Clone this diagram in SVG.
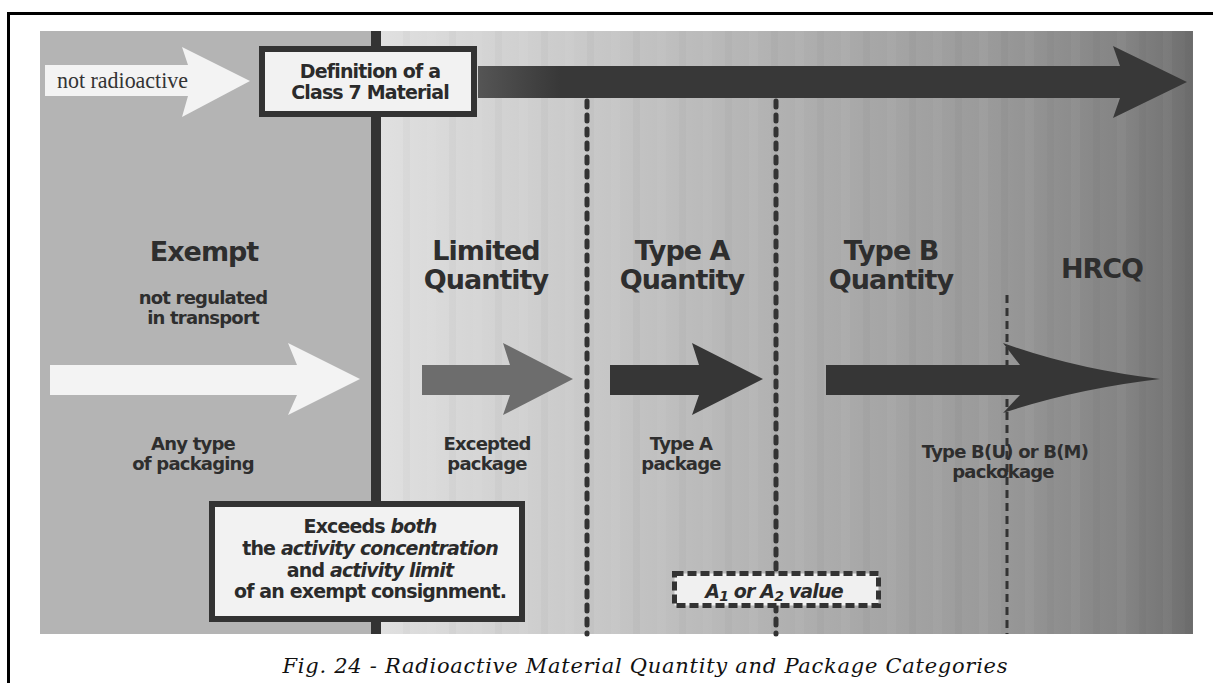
<svg xmlns="http://www.w3.org/2000/svg" width="1213" height="683" viewBox="0 0 1213 683">
  <defs>
    <linearGradient id="rampRight" x1="381" y1="0" x2="1193" y2="0" gradientUnits="userSpaceOnUse">
      <stop offset="0" stop-color="#e0e0e0"/>
      <stop offset="0.26" stop-color="#c8c8c8"/>
      <stop offset="0.49" stop-color="#b1b1b1"/>
      <stop offset="0.76" stop-color="#999999"/>
      <stop offset="0.92" stop-color="#838383"/>
      <stop offset="1" stop-color="#6e6e6e"/>
    </linearGradient>
    <linearGradient id="barFade" x1="478" y1="0" x2="560" y2="0" gradientUnits="userSpaceOnUse">
      <stop offset="0" stop-color="#555555"/>
      <stop offset="1" stop-color="#383838"/>
    </linearGradient>
    <pattern id="bands" x="381" y="0" width="46" height="10" patternUnits="userSpaceOnUse">
      <rect x="0" y="0" width="9" height="10" fill="#ffffff" opacity="0.035"/>
      <rect x="22" y="0" width="7" height="10" fill="#000000" opacity="0.025"/>
    </pattern>
  </defs>
  <style>
    .head { font-family: "DejaVu Sans", "Liberation Sans", sans-serif; font-weight: bold; font-size: 27px; letter-spacing: -1px; fill: #2e2e2e; text-anchor: middle; }
    .sub { font-family: "DejaVu Sans", "Liberation Sans", sans-serif; font-weight: bold; font-size: 18px; fill: #2e2e2e; text-anchor: middle; letter-spacing: -0.8px; }
    .boxtxt { font-family: "DejaVu Sans", "Liberation Sans", sans-serif; font-weight: bold; font-size: 19px; letter-spacing: -0.85px; fill: #2b2b2b; text-anchor: middle; }
    .it { font-style: italic; }
    .frame { fill: #f2f2f2; stroke: #333333; stroke-width: 6; }
    .div-thick { stroke: #333333; stroke-width: 5; stroke-dasharray: 6 8; stroke-linecap: round; fill: none; }
    .div-thin { stroke: #333333; stroke-width: 3; stroke-dasharray: 8 5; fill: none; }
    .dark { fill: #363636; }
    .pale { fill: #f3f3f3; }
    .caption { font-family: "DejaVu Serif", "Liberation Serif", serif; font-style: italic; font-size: 21px; fill: #111111; text-anchor: middle; }
  </style>

  <!-- page frame -->
  <rect x="0" y="0" width="1213" height="683" fill="#ffffff"/>
  <rect x="7" y="12" width="1206" height="3" fill="#000000"/>
  <rect x="7" y="12" width="3" height="671" fill="#000000"/>

  <!-- panels -->
  <g id="panels">
    <rect x="40" y="31" width="333" height="603" fill="#b4b4b4"/>
    <rect x="379" y="31" width="814" height="603" fill="url(#rampRight)"/>
    <rect x="379" y="31" width="814" height="603" fill="url(#bands)"/>
  </g>

  <!-- category boundaries -->
  <g id="dividers">
    <rect x="371" y="31" width="10" height="603" fill="#333333"/>
    <line class="div-thick" x1="587" y1="101" x2="587" y2="634"/>
    <line class="div-thick" x1="776" y1="101" x2="776" y2="634"/>
    <line class="div-thin" x1="1007" y1="295" x2="1007" y2="634"/>
  </g>

  <!-- block arrows -->
  <g id="connectors">
    <polygon id="arrow-not-radioactive" class="pale" points="45,65 188,65 182,47 250,81 182,117 188,96 45,96"/>
    <polygon id="arrow-class7" fill="url(#barFade)" points="478,66 1120,66 1113,46 1187,82 1113,118 1120,98 478,98"/>
    <polygon id="arrow-exempt" class="pale" points="50,365 297,365 288,343 360,379 288,415 297,395 50,395"/>
    <polygon id="arrow-excepted" fill="#6d6d6d" points="422,365 510,365 503,343 573,379 503,415 510,395 422,395"/>
    <polygon id="arrow-type-a" class="dark" points="610,365 699,365 692,343 763,379 692,415 699,395 610,395"/>
    <path id="arrow-type-b" class="dark" d="M826,365 L1020,365 L1003,343 Q1075,369 1160,379 Q1075,389 1003,413 L1020,395 L826,395 Z"/>
  </g>

  <!-- entry label -->
  <g id="not-radioactive">
    <text x="57" y="88" font-family="Liberation Serif, serif" font-size="23" fill="#333333" textLength="131" lengthAdjust="spacingAndGlyphs">not radioactive</text>
  </g>

  <!-- definition node -->
  <g id="definition-box">
    <rect class="frame" x="262" y="49" width="212" height="65"/>
    <text class="boxtxt" x="370" y="78">Definition of a</text>
    <text class="boxtxt" x="370" y="99">Class 7 Material</text>
  </g>

  <!-- category columns -->
  <g id="exempt">
    <text class="head" x="204" y="261">Exempt</text>
    <text class="sub" x="203" y="304">not regulated</text>
    <text class="sub" x="203" y="324">in transport</text>
    <text class="sub" x="193" y="450">Any type</text>
    <text class="sub" x="193" y="470">of packaging</text>
  </g>

  <g id="limited-quantity">
    <text class="head" x="486" y="260">Limited</text>
    <text class="head" x="486" y="289">Quantity</text>
    <text class="sub" x="487" y="450">Excepted</text>
    <text class="sub" x="487" y="470">package</text>
  </g>

  <g id="type-a-quantity">
    <text class="head" x="682" y="260">Type A</text>
    <text class="head" x="682" y="289">Quantity</text>
    <text class="sub" x="681" y="450">Type A</text>
    <text class="sub" x="681" y="470">package</text>
  </g>

  <g id="type-b-quantity">
    <text class="head" x="891" y="260">Type B</text>
    <text class="head" x="891" y="289">Quantity</text>
    <text class="sub" x="1005" y="458">Type B(U) or B(M)</text>
    <text class="sub" x="1003" y="478">packokage</text>
  </g>

  <g id="hrcq">
    <text class="head" x="1102" y="278">HRCQ</text>
  </g>

  <!-- exempt-limit node -->
  <g id="exceeds-box">
    <rect class="frame" x="212" y="504" width="310" height="115"/>
    <text class="boxtxt" x="370" y="533">Exceeds <tspan class="it">both</tspan></text>
    <text class="boxtxt" x="370" y="555">the <tspan class="it">activity concentration</tspan></text>
    <text class="boxtxt" x="370" y="577">and <tspan class="it">activity limit</tspan></text>
    <text class="boxtxt" x="370" y="598">of an exempt consignment.</text>
  </g>

  <!-- A1/A2 threshold node -->
  <g id="a-value-box">
    <rect x="674.5" y="573.5" width="204" height="32" fill="#f0f0f0" stroke="#333333" stroke-width="5" stroke-dasharray="9 4"/>
    <text class="boxtxt it" x="774" y="598" font-size="23" letter-spacing="-0.8">A<tspan font-size="14" dy="3">1</tspan><tspan dy="-3"> or A</tspan><tspan font-size="14" dy="3">2</tspan><tspan dy="-3"> value</tspan></text>
  </g>

  <!-- figure caption -->
  <text class="caption" x="645" y="673" textLength="725" lengthAdjust="spacing">Fig. 24 - Radioactive Material Quantity and Package Categories</text>
</svg>
